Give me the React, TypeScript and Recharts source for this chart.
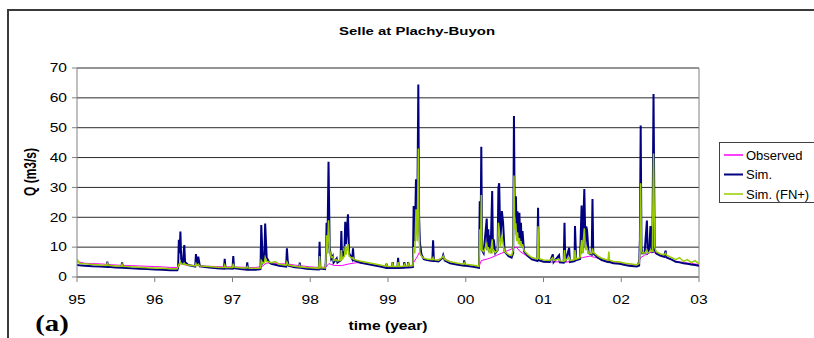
import React from "react";
import { LineChart, Line, XAxis, YAxis, CartesianGrid, ReferenceLine } from "recharts";

const chartTitle = "Selle at Plachy-Buyon";
const xTitle = "time (year)";
const yTitle = "Q (m3/s)";
const panelTag = "(a)";

const yearTicks = [95, 96, 97, 98, 99, 100, 101, 102, 103];
const yearLabels = ["95", "96", "97", "98", "99", "00", "01", "02", "03"];
const qTicks = [0, 10, 20, 30, 40, 50, 60, 70];

const seriesNames = ["Observed", "Sim.", "Sim. (FN+)"];
const seriesColors = ["#FF00FF", "#000080", "#99CC00"];

// simulated series share one time base (decimal year, 100 = 2000)
const simTime = [
  95.0, 95.01, 95.03, 95.1, 95.2, 95.3, 95.38, 95.39, 95.4, 95.5,
  95.57, 95.58, 95.59, 95.7, 95.8, 95.9, 96.0, 96.1, 96.2, 96.29,
  96.3, 96.31, 96.32, 96.33, 96.34, 96.36, 96.38, 96.39, 96.43, 96.5,
  96.52, 96.53, 96.54, 96.56, 96.58, 96.7, 96.8, 96.89, 96.9, 96.91,
  97.0, 97.01, 97.02, 97.1, 97.18, 97.19, 97.2, 97.3, 97.36, 97.37,
  97.39, 97.41, 97.42, 97.44, 97.47, 97.5, 97.55, 97.6, 97.69, 97.7,
  97.71, 97.72, 97.8, 97.86, 97.865, 97.87, 97.95, 98.05, 98.11, 98.12,
  98.13, 98.19, 98.2, 98.21, 98.22, 98.235, 98.25, 98.27, 98.29, 98.3,
  98.34, 98.35, 98.39, 98.4, 98.41, 98.44, 98.45, 98.46, 98.485, 98.5,
  98.54, 98.55, 98.56, 98.65, 98.8, 98.9, 98.97, 98.98, 98.99, 99.05,
  99.06, 99.07, 99.12, 99.13, 99.14, 99.2, 99.21, 99.22, 99.25, 99.26,
  99.27, 99.32, 99.33, 99.345, 99.36, 99.375, 99.39, 99.4, 99.41, 99.43,
  99.46, 99.5, 99.57, 99.58, 99.59, 99.65, 99.7, 99.71, 99.73, 99.8,
  99.9, 99.97, 99.98, 99.99, 100.05, 100.1, 100.17, 100.18, 100.19, 100.2,
  100.21, 100.23, 100.27, 100.28, 100.29, 100.3, 100.31, 100.32, 100.34, 100.35,
  100.36, 100.38, 100.41, 100.42, 100.43, 100.445, 100.465, 100.48, 100.5, 100.55,
  100.59, 100.61, 100.62, 100.63, 100.645, 100.655, 100.665, 100.68, 100.69, 100.7,
  100.71, 100.72, 100.73, 100.75, 100.8, 100.85, 100.92, 100.93, 100.94, 101.0,
  101.08, 101.12, 101.13, 101.2, 101.21, 101.26, 101.27, 101.28, 101.33, 101.34,
  101.4, 101.405, 101.42, 101.47, 101.49, 101.5, 101.525, 101.54, 101.55, 101.56,
  101.58, 101.62, 101.63, 101.64, 101.7, 101.75, 101.83, 101.84, 101.85, 101.9,
  101.98, 102.05, 102.1, 102.2, 102.23, 102.24, 102.25, 102.26, 102.27, 102.3,
  102.33, 102.34, 102.36, 102.375, 102.39, 102.4, 102.415, 102.43, 102.45, 102.5,
  102.55, 102.57, 102.58, 102.65, 102.7, 102.75, 102.8, 102.85, 102.9, 102.95,
  103.0,
];

const simQ = [
  4.2, 4.0, 3.9, 3.8, 3.6, 3.5, 3.4, 5.1, 3.4, 3.2,
  3.1, 4.9, 3.1, 2.9, 2.8, 2.7, 2.5, 2.4, 2.3, 2.3,
  3.0, 12.5, 8.0, 15.2, 6.0, 4.5, 10.7, 5.0, 4.0, 3.6,
  3.5, 7.7, 4.0, 6.8, 3.6, 3.2, 2.9, 2.8, 6.1, 2.9,
  2.8, 7.0, 3.0, 2.7, 2.5, 4.9, 2.5, 2.4, 2.6, 17.4,
  5.0, 6.0, 17.9, 6.5, 5.0, 4.4, 4.1, 3.8, 3.5, 9.6,
  5.5, 3.8, 3.3, 3.1, 4.8, 3.1, 2.8, 2.6, 2.5, 11.8,
  2.8, 2.6, 5.0, 18.2, 8.0, 38.6, 10.0, 6.0, 7.0, 4.8,
  6.2, 4.8, 5.5, 15.4, 6.0, 9.0, 18.5, 11.0, 21.0, 8.0,
  6.0, 9.6, 5.6, 4.8, 4.0, 3.5, 3.1, 4.5, 3.1, 3.0,
  5.0, 3.0, 3.0, 6.4, 3.0, 3.1, 5.0, 3.1, 3.2, 5.0,
  3.2, 3.3, 23.8, 12.0, 32.7, 15.0, 64.5, 20.0, 11.5, 7.6,
  6.0, 5.7, 5.4, 12.3, 5.4, 5.2, 6.4, 7.3, 5.5, 4.6,
  4.1, 3.8, 5.6, 3.8, 3.6, 3.4, 3.1, 25.4, 10.0, 43.6,
  9.0, 8.0, 19.6, 9.0, 16.0, 8.5, 14.0, 8.0, 28.8, 9.0,
  12.6, 8.0, 9.0, 29.9, 31.4, 12.0, 22.1, 18.2, 8.5, 7.0,
  6.5, 8.0, 53.9, 20.0, 27.0, 14.0, 22.0, 13.0, 21.5, 12.0,
  18.2, 10.5, 15.4, 8.5, 7.0, 5.9, 5.4, 23.2, 5.6, 5.1,
  5.0, 7.6, 5.0, 7.3, 4.9, 4.8, 18.2, 5.0, 9.8, 5.0,
  5.3, 17.1, 5.6, 6.0, 23.9, 8.0, 29.5, 10.0, 16.9, 15.7,
  8.0, 7.5, 26.1, 7.9, 6.5, 5.7, 5.0, 5.3, 5.0, 4.6,
  4.4, 4.0, 3.8, 3.5, 3.8, 12.6, 50.7, 10.0, 7.9, 8.0,
  18.9, 8.0, 8.5, 17.1, 10.2, 8.0, 61.3, 9.0, 7.9, 7.2,
  6.8, 8.8, 6.6, 5.8, 5.1, 4.9, 4.6, 4.4, 4.2, 4.0,
  3.8,
];

const fnQ = [
  4.9, 5.6, 4.6, 4.4, 4.2, 4.0, 3.9, 4.6, 3.9, 3.7,
  3.6, 4.3, 3.6, 3.4, 3.3, 3.1, 3.0, 2.9, 2.8, 2.8,
  3.4, 4.2, 4.5, 5.0, 4.4, 4.2, 4.6, 4.2, 4.0, 3.8,
  3.7, 4.5, 3.9, 4.2, 3.7, 3.5, 3.3, 3.2, 4.0, 3.2,
  3.2, 4.5, 3.3, 3.1, 3.0, 3.5, 3.0, 2.9, 3.0, 5.5,
  4.6, 4.8, 6.5, 5.2, 5.0, 4.8, 5.2, 4.3, 4.0, 5.0,
  4.4, 4.0, 3.6, 3.4, 3.8, 3.4, 3.2, 3.0, 2.9, 7.0,
  3.1, 3.0, 5.0, 14.0, 8.0, 19.0, 9.0, 6.5, 6.8, 5.5,
  5.8, 5.4, 5.6, 9.0, 6.0, 7.0, 10.4, 7.5, 11.0, 7.0,
  6.2, 6.5, 5.9, 5.3, 4.5, 4.0, 3.6, 4.2, 3.6, 3.5,
  4.4, 3.5, 3.5, 5.0, 3.5, 3.6, 4.2, 3.6, 3.7, 4.5,
  3.7, 3.8, 10.0, 8.0, 22.7, 12.0, 43.0, 14.0, 8.0, 7.0,
  6.3, 6.0, 5.8, 6.5, 5.8, 5.6, 6.6, 7.0, 5.9, 5.1,
  4.6, 4.3, 4.8, 4.3, 4.1, 3.9, 3.6, 16.0, 9.0, 27.5,
  9.0, 8.5, 11.0, 9.0, 10.0, 8.5, 9.0, 8.0, 12.6, 8.5,
  9.0, 8.2, 9.0, 18.2, 16.0, 10.0, 14.0, 11.0, 8.5, 7.5,
  7.2, 9.0, 34.0, 16.0, 18.0, 12.0, 15.0, 11.0, 13.0, 10.5,
  12.0, 10.0, 11.0, 8.8, 7.5, 6.5, 6.0, 17.0, 6.2, 5.7,
  5.5, 6.5, 5.5, 6.0, 5.4, 5.3, 9.0, 5.5, 6.5, 5.5,
  5.8, 9.0, 6.0, 6.5, 12.4, 8.0, 16.3, 9.0, 10.0, 9.5,
  8.0, 7.8, 9.6, 8.3, 7.0, 6.3, 5.6, 8.5, 5.6, 5.2,
  5.0, 4.6, 4.4, 4.1, 4.5, 9.0, 31.4, 9.0, 8.0, 8.0,
  9.0, 8.0, 8.2, 9.0, 8.5, 8.5, 41.4, 10.0, 8.5, 7.8,
  7.4, 8.0, 7.3, 6.5, 5.8, 6.5, 5.2, 5.8, 4.8, 5.5,
  4.4,
];

const obsTime = [
  95.0, 95.1, 95.2, 95.3, 95.4, 95.5, 95.6, 95.7, 95.8, 95.9,
  96.0, 96.1, 96.2, 96.3, 96.33, 96.4, 96.5, 96.6, 96.7, 96.8,
  96.9, 97.0, 97.1, 97.2, 97.3, 97.38, 97.43, 97.5, 97.6, 97.7,
  97.8, 97.9, 98.0, 98.1, 98.2, 98.24, 98.3, 98.4, 98.5, 98.6,
  98.7, 98.8, 98.9, 99.0, 99.1, 99.2, 99.3, 99.38, 99.4, 99.45,
  99.5, 99.6, 99.7, 99.8, 99.9, 100.0, 100.1, 100.17, 100.2, 100.3,
  100.4, 100.5, 100.6, 100.65, 100.7, 100.8, 100.9, 101.0, 101.1, 101.2,
  101.3, 101.4, 101.5, 101.6, 101.7, 101.8, 101.9, 102.0, 102.1, 102.2,
  102.25, 102.3, 102.4, 102.45, 102.5, 102.6, 102.7, 102.8, 102.9, 103.0,
];

const obsQ = [
  5.2, 4.6, 4.5, 4.4, 4.2, 4.0, 3.9, 3.8, 3.7, 3.6,
  3.5, 3.4, 3.2, 3.2, 4.5, 4.0, 3.9, 3.7, 3.6, 3.5,
  3.4, 3.4, 3.3, 3.2, 3.2, 3.5, 4.6, 4.8, 4.4, 4.4,
  4.0, 3.7, 3.4, 3.2, 3.3, 4.5, 3.9, 3.8, 4.4, 4.8,
  4.6, 4.2, 3.8, 3.5, 3.5, 3.5, 3.6, 7.0, 8.1, 6.2,
  5.6, 5.2, 6.5, 5.1, 4.4, 3.9, 3.6, 3.4, 5.5, 6.2,
  7.3, 8.4, 9.5, 10.0, 8.5, 6.8, 5.8, 5.3, 5.0, 5.1,
  5.0, 5.5, 6.5, 7.0, 6.3, 5.5, 4.9, 4.6, 4.3, 4.1,
  6.5, 7.3, 8.5, 7.8, 7.3, 6.2, 5.3, 4.8, 4.5, 4.2,
];

const W = 814;
const H = 338;
const STRETCH = 1.3;
const FONT = "'Liberation Sans', Arial, sans-serif";

const XTick = (props: any) => {
  const { x, y, payload } = props;
  const idx = yearTicks.indexOf(payload.value);
  const label = idx >= 0 ? yearLabels[idx] : String(payload.value);
  return (
    <g transform={`translate(${x},${y}) scale(${STRETCH},1)`}>
      <text x={0} y={0} dy="0.71em" textAnchor="middle" fontSize={12} fontFamily={FONT} fill="#000">
        {label}
      </text>
    </g>
  );
};

const YTick = (props: any) => {
  const { x, y, payload } = props;
  return (
    <g transform={`translate(${x},${y}) scale(${STRETCH},1)`}>
      <text x={0} y={0} dy="0.355em" textAnchor="end" fontSize={12} fontFamily={FONT} fill="#000">
        {payload.value}
      </text>
    </g>
  );
};

const LegendBox = () => (
  <div
    style={{
      position: "absolute",
      left: 719,
      top: 142,
      width: 130,
      height: 61,
      border: "1px solid #404040",
      background: "#fff",
      boxSizing: "border-box",
    }}
  >
    <svg width={130} height={61} style={{ display: "block" }}>
      {seriesNames.map((name, i) => (
        <g key={name} transform={`translate(0,${12 + i * 19.5})`}>
          <line x1={4} x2={23} y1={0} y2={0} stroke={seriesColors[i]} strokeWidth={i === 1 ? 2 : 1.5} />
          <text x={26} y={0} dy="0.355em" fontSize={13} fontFamily={FONT} fill="#000">
            {name}
          </text>
        </g>
      ))}
    </svg>
  </div>
);

export default function App() {
  const simData = simTime.map((t, i) => ({ t, q: simQ[i] }));
  const fnData = simTime.map((t, i) => ({ t, q: fnQ[i] }));
  const obsData = obsTime.map((t, i) => ({ t, q: obsQ[i] }));

  return (
    <div style={{ position: "absolute", left: 0, top: 0, width: W, height: H, overflow: "hidden", background: "#fff" }}>
      <div
        style={{
          position: "absolute",
          left: 7,
          top: 9,
          width: 900,
          height: 400,
          border: "2px solid #3a3a3a",
          boxSizing: "border-box",
        }}
      />
      <div style={{ position: "absolute", left: 0, top: 0 }}>
        <LineChart width={W} height={H} margin={{ top: 68, right: 115, bottom: 31, left: 37 }}>
          <CartesianGrid horizontal vertical={false} stroke="#2a2a2a" strokeWidth={1} />
          <XAxis
            type="number"
            dataKey="t"
            domain={[95, 103]}
            ticks={yearTicks}
            allowDataOverflow
            height={30}
            tickSize={5}
            tickMargin={13}
            stroke="#808080"
            tick={<XTick />}
            interval={0}
          />
          <YAxis
            type="number"
            domain={[0, 70]}
            ticks={qTicks}
            width={40}
            tickSize={5}
            tickMargin={5}
            stroke="#808080"
            tick={<YTick />}
            interval={0}
          />
          <ReferenceLine x={103} stroke="#808080" />
          <Line data={obsData} dataKey="q" name={seriesNames[0]} stroke={seriesColors[0]} strokeWidth={1} dot={false} isAnimationActive={false} />
          <Line data={simData} dataKey="q" name={seriesNames[1]} stroke={seriesColors[1]} strokeWidth={2} dot={false} isAnimationActive={false} />
          <Line data={fnData} dataKey="q" name={seriesNames[2]} stroke={seriesColors[2]} strokeWidth={1.5} dot={false} isAnimationActive={false} />
        </LineChart>
      </div>
      <svg width={W} height={H} style={{ position: "absolute", left: 0, top: 0, pointerEvents: "none" }}>
        <g transform={`translate(417,31) scale(${STRETCH},1)`}>
          <text x={0} y={0} dy="0.355em" textAnchor="middle" fontSize={11.5} fontWeight="bold" fontFamily={FONT}>
            {chartTitle}
          </text>
        </g>
        <g transform={`translate(30,172) rotate(-90) scale(1,${STRETCH})`}>
          <text x={0} y={0} dy="0.355em" textAnchor="middle" fontSize={12} fontWeight="bold" fontFamily={FONT}>
            {yTitle}
          </text>
        </g>
        <g transform={`translate(388,326) scale(${STRETCH},1)`}>
          <text x={0} y={0} dy="0.355em" textAnchor="middle" fontSize={12} fontWeight="bold" fontFamily={FONT}>
            {xTitle}
          </text>
        </g>
        <g transform={`translate(52,322) scale(1.2,1)`}>
          <text x={0} y={0} dy="0.355em" textAnchor="middle" fontSize={24} fontWeight="bold" fontFamily="'Liberation Serif', 'Times New Roman', serif">
            {panelTag}
          </text>
        </g>
      </svg>
      <LegendBox />
    </div>
  );
}
